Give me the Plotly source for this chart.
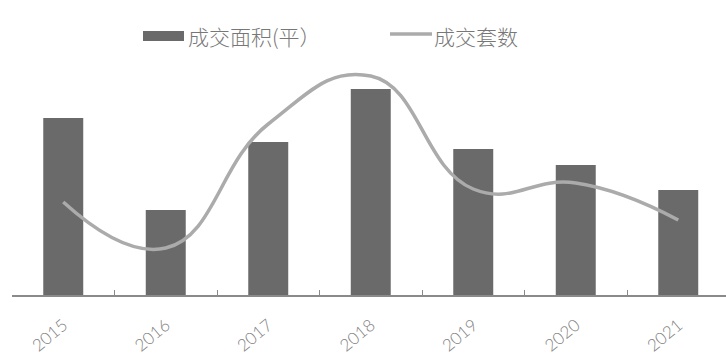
import plotly.graph_objects as go

years = ["2015", "2016", "2017", "2018", "2019", "2020", "2021"]
area = [177, 85, 153, 206, 146, 130, 105]      # 成交面积(平)
sets = [93, 47, 171, 219, 106, 112, 75]        # 成交套数

W, H = 726, 359
ML, MR, MT, MB = 12, 0, 60, 64
pw, ph = W - ML - MR, H - MT - MB

def px(x):
    return (x - ML) / pw

def py(y):
    return (H - MB - y) / ph

fig = go.Figure()
fig.add_trace(go.Bar(x=years, y=area, name="成交面积(平)", width=0.39,
                     marker=dict(color="#6a6a6a", line=dict(width=0)),
                     showlegend=False))
fig.add_trace(go.Scatter(x=years, y=sets, name="成交套数", mode="lines",
                         line=dict(color="#ababab", width=3.5, shape="spline", smoothing=1.3),
                         showlegend=False))

# legend drawn manually
fig.add_shape(type="rect", xref="paper", yref="paper",
              x0=px(143), x1=px(184), y0=py(41), y1=py(31),
              fillcolor="#6a6a6a", line=dict(width=0))
fig.add_shape(type="line", xref="paper", yref="paper",
              x0=px(390), x1=px(432), y0=py(34), y1=py(34),
              line=dict(color="#ababab", width=3.5))
fig.add_annotation(xref="paper", yref="paper", x=px(186), y=py(36),
                   xanchor="left", yanchor="middle", showarrow=False,
                   text="成交面积(平）",
                   font=dict(family="Noto Sans CJK SC Light, Noto Sans CJK SC", size=21, color="#777777"))
fig.add_annotation(xref="paper", yref="paper", x=px(432), y=py(36),
                   xanchor="left", yanchor="middle", showarrow=False,
                   text="成交套数",
                   font=dict(family="Noto Sans CJK SC Light, Noto Sans CJK SC", size=21, color="#777777"))

fig.update_layout(
    width=W, height=H,
    margin=dict(l=ML, r=MR, t=MT, b=MB),
    paper_bgcolor="white", plot_bgcolor="white",
    xaxis=dict(type="category", range=[-0.5, -0.5 + pw / 102.5],
               showline=True, linecolor="#8a8a8a", linewidth=1.5,
               ticks="inside", tickson="boundaries", ticklen=5, tickcolor="#8a8a8a",
               tickangle=-40, showgrid=False, ticklabelstandoff=12,
               tickfont=dict(family="Lato Light, Lato", size=17, color="#808080")),
    yaxis=dict(range=[0, ph], visible=False, showgrid=False),
)

fig.write_html("out.html")
